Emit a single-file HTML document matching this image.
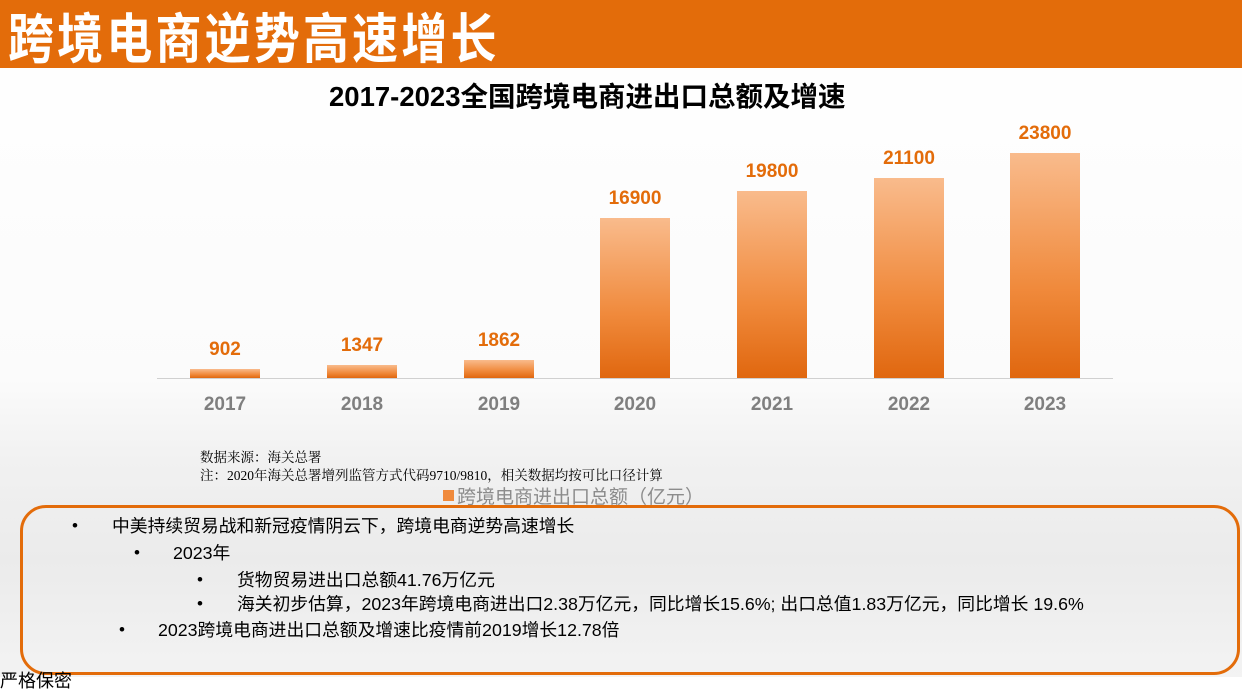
<!DOCTYPE html>
<html><head><meta charset="utf-8"><style>
body{margin:0;width:1242px;height:677px;overflow:hidden;position:relative;font-family:"Liberation Sans","Noto Sans CJK SC",sans-serif;background:linear-gradient(#fff 0,#fbfbfb 380px,#f1f1f1 460px,#ebebeb 560px,#f3f3f3 677px);}
.hd{position:absolute;left:0;top:0;width:1242px;height:68px;background:#e36c0a;}
.hd span{position:absolute;left:8px;top:3px;color:#fff;font-size:57px;font-weight:bold;letter-spacing:4px;line-height:64px;white-space:nowrap;font-family:"Noto Sans CJK SC",sans-serif;transform:scale(0.806,0.95);transform-origin:0 50%;}
.t{position:absolute;left:329px;top:81px;font-size:27.5px;font-weight:bold;white-space:nowrap;line-height:32px;color:#000}
.bar{position:absolute;width:70px;background:linear-gradient(#f9bb8c,#f08a3c 60%,#e0670f);}
.v{position:absolute;width:120px;text-align:center;color:#e36c0a;font-weight:bold;font-size:19px;}
.y{position:absolute;width:120px;text-align:center;color:#7f7f7f;font-weight:bold;font-size:19px;top:394px}
.n{position:absolute;left:200px;font-size:13.5px;font-family:"Liberation Serif","Noto Serif CJK SC",serif;white-space:nowrap}
.box{position:absolute;left:20px;top:505px;width:1214px;height:164px;border:3px solid #e36c0a;border-radius:26px;}
.l{position:absolute;font-size:17.8px;line-height:22px;white-space:nowrap;color:#000}
.b{position:absolute;font-size:17px;line-height:22px;color:#000}
</style></head><body>
<div class="hd"><span>跨境电商逆势高速增长</span></div>
<div class="t">2017-2023全国跨境电商进出口总额及增速</div>
<div style="position:absolute;left:157px;top:378px;width:956px;height:1px;background:#d0d0d0"></div>
<div class="bar" style="left:190px;top:369px;height:9px"></div>
<div class="bar" style="left:327px;top:365px;height:13px"></div>
<div class="bar" style="left:464px;top:360px;height:18px"></div>
<div class="bar" style="left:600px;top:218px;height:160px"></div>
<div class="bar" style="left:737px;top:191px;height:187px"></div>
<div class="bar" style="left:874px;top:178px;height:200px"></div>
<div class="bar" style="left:1010px;top:153px;height:225px"></div>
<div class="v" style="left:165px;top:339px">902</div>
<div class="v" style="left:302px;top:335px">1347</div>
<div class="v" style="left:439px;top:330px">1862</div>
<div class="v" style="left:575px;top:188px">16900</div>
<div class="v" style="left:712px;top:161px">19800</div>
<div class="v" style="left:849px;top:148px">21100</div>
<div class="v" style="left:985px;top:123px">23800</div>
<div class="y" style="left:165px">2017</div>
<div class="y" style="left:302px">2018</div>
<div class="y" style="left:439px">2019</div>
<div class="y" style="left:575px">2020</div>
<div class="y" style="left:712px">2021</div>
<div class="y" style="left:849px">2022</div>
<div class="y" style="left:985px">2023</div>
<div class="n" style="top:446px">数据来源：海关总署</div>
<div class="n" style="top:464px">注：2020年海关总署增列监管方式代码9710/9810，相关数据均按可比口径计算</div>
<div style="position:absolute;left:443px;top:490px;width:11px;height:11px;background:#f08a3c"></div>
<div style="position:absolute;left:457px;top:482px;font-size:19px;color:#8c8c8c;white-space:nowrap">跨境电商进出口总额（亿元）</div>
<div class="box"></div>
<div class="b" style="left:72px;top:515px">•</div><div class="l" style="left:112px;top:515px">中美持续贸易战和新冠疫情阴云下，跨境电商逆势高速增长</div>
<div class="b" style="left:134px;top:542px">•</div><div class="l" style="left:173px;top:542px">2023年</div>
<div class="b" style="left:197px;top:569px">•</div><div class="l" style="left:237px;top:569px">货物贸易进出口总额41.76万亿元</div>
<div class="b" style="left:197px;top:593px">•</div><div class="l" style="left:237px;top:593px">海关初步估算，2023年跨境电商进出口2.38万亿元，同比增长15.6%; 出口总值1.83万亿元，同比增长 19.6%</div>
<div class="b" style="left:119px;top:619px">•</div><div class="l" style="left:158px;top:619px">2023跨境电商进出口总额及增速比疫情前2019增长12.78倍</div>
<div class="l" style="left:0px;top:670px;font-size:18px">严格保密</div>
</body></html>
